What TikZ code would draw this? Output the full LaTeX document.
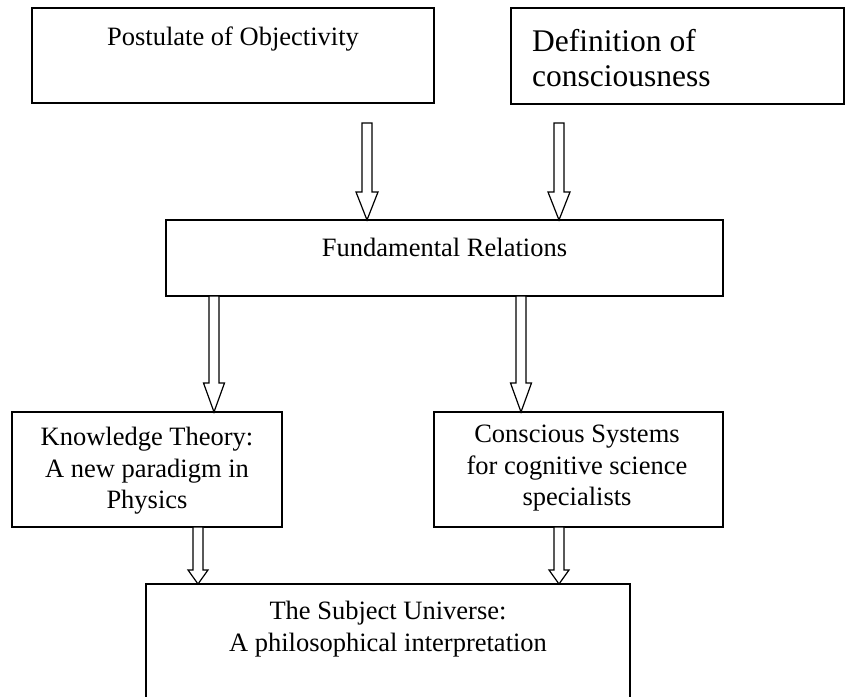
\documentclass[tikz,border=0pt]{standalone}
\usepackage{fontspec}
\setmainfont{Liberation Serif}
\usetikzlibrary{calc}
\tikzset{
  boxnode/.style={draw=black, line width=1.6pt, inner sep=0pt, outer sep=0pt, anchor=north west},
  txt/.style={inner sep=0pt, anchor=north, align=center, font=\fontsize{26.5}{31.5}\selectfont},
  bigtxt/.style={inner sep=0pt, anchor=north west, align=left, font=\fontsize{31.5}{34.5}\selectfont},
  arrowline/.style={draw=black, line width=1.2pt, line join=miter, fill=white},
}
\newcommand\blockarr[4]{%
  \draw[arrowline] ($(#1)+(-5,0)$) -- ($(#2)+(-5,-#3)$) -- ($(#2)+(-#4,-#3)$) -- (#2)
    -- ($(#2)+(#4,-#3)$) -- ($(#2)+(5,-#3)$) -- ($(#1)+(5,0)$) -- cycle;}
\begin{document}
\begin{tikzpicture}[x=1pt,y=-1pt]
\useasboundingbox (0,0) rectangle (845,696);
% boxes
\node[boxnode, minimum width=402pt, minimum height=95pt] (post) at (32,8) {};
\node[boxnode, minimum width=333pt, minimum height=96pt] (defn) at (511,8) {};
\node[boxnode, minimum width=557pt, minimum height=76pt] (fund) at (166,220) {};
\node[boxnode, minimum width=270pt, minimum height=115pt] (know) at (12,412) {};
\node[boxnode, minimum width=289pt, minimum height=115pt] (cons) at (434,412) {};
\node[boxnode, minimum width=484pt, minimum height=130pt] (subj) at (146,584) {};
% texts
\node[txt] (tpost) at (233,27) {Postulate of Objectivity};
\node[bigtxt] (tdefn) at (532,29.5) {Definition of\\consciousness};
\node[txt] (tfund) at (444.5,238) {Fundamental Relations};
\node[txt] (tknow) at (147,427) {Knowledge Theory:\\A new paradigm in\\Physics};
\node[txt] (tcons) at (577,425) {Conscious Systems\\for cognitive science\\specialists};
\node[txt] (tsubj) at (388,601) {The Subject Universe:\\A philosophical interpretation};
% arrow positions
\coordinate (a1s) at (367,123);
\coordinate (a2s) at (559,123);
\coordinate (x3) at (214,0);
\coordinate (x4) at (521,0);
\coordinate (x5) at (198,0);
\coordinate (x6) at (559,0);
\blockarr{a1s}{a1s |- fund.north}{28}{11}
\blockarr{a2s}{a2s |- fund.north}{28}{11}
\blockarr{x3 |- fund.south}{x3 |- know.north}{29}{10.5}
\blockarr{x4 |- fund.south}{x4 |- cons.north}{29}{10.5}
\blockarr{x5 |- know.south}{x5 |- subj.north}{14}{10}
\blockarr{x6 |- cons.south}{x6 |- subj.north}{14}{10}
\end{tikzpicture}
\end{document}
